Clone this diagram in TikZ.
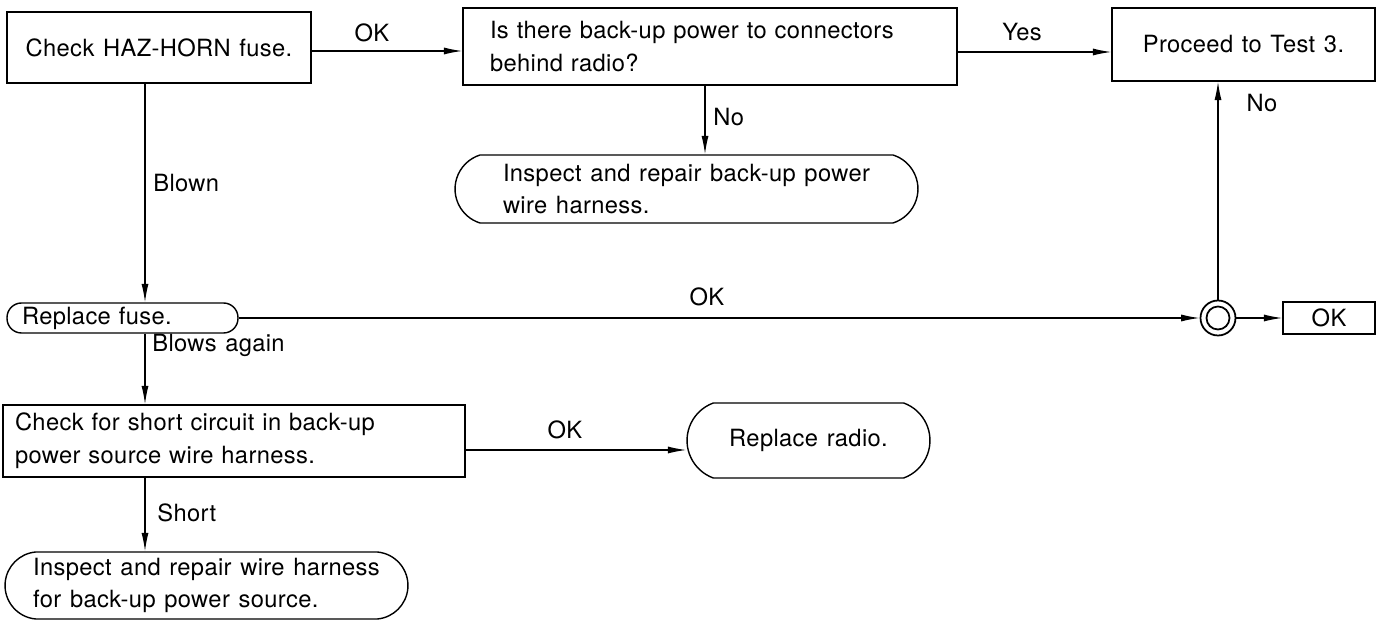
\documentclass[tikz,border=0pt]{standalone}
\usepackage{fontspec}
\setmainfont{TeX Gyre Heros}[WordSpace=1.25,LetterSpace=1.5]
\usetikzlibrary{arrows.meta,shapes.misc,calc}
\begin{document}
\begin{tikzpicture}[x=0.02cm,y=-0.02cm,
  every node/.style={font=\fontsize{13.5}{18.7}\selectfont},
  box/.style={draw, line width=0.8pt, rectangle, inner sep=0pt},
  rbox/.style={draw, line width=0.8pt, rounded rectangle, inner sep=0pt},
  arr/.style={line width=0.7pt, -{Latex[length=10.5pt,width=4pt]}},
  lbl/.style={inner sep=0pt}]
\useasboundingbox (0,0) rectangle (1377,624);
% nodes
\node[box, minimum width=6.08cm, minimum height=1.42cm] (b1) at (159,47.5) {Check HAZ-HORN fuse.};
\node[box, minimum width=9.88cm, minimum height=1.54cm, text width=8.8cm, align=left] (b2) at (710,46.5) {Is there back-up power to connectors\\behind radio?};
\node[box, minimum width=5.26cm, minimum height=1.46cm] (b3) at (1243.5,44.5) {Proceed to Test 3.};
\node[rbox, rounded rectangle arc length=145, minimum width=9.26cm, minimum height=1.36cm, align=left] (i1) at (686.5,189) {Inspect and repair back-up power\\wire harness.};
\node[box, rounded corners=0.29cm, minimum width=4.62cm, minimum height=0.6cm, text width=4.02cm, align=left] (fuse) at (122.5,318) {Replace fuse.};
\node[circle, draw, line width=1pt, minimum size=0.7cm, inner sep=0pt] (c) at (1218,318) {};
\draw[line width=1pt] (c.center) circle[radius=0.23cm];
\node[box, minimum width=1.84cm, minimum height=0.64cm] (ok) at (1329,318) {OK};
\node[box, minimum width=9.24cm, minimum height=1.44cm, text width=8.76cm, align=left] (b4) at (234,441) {Check for short circuit in back-up\\power source wire harness.};
\node[rbox, rounded rectangle arc length=140, minimum width=4.86cm, minimum height=1.5cm] (radio) at (808.5,440.5) {Replace radio.};
\node[rbox, rounded rectangle arc length=170, minimum width=8.06cm, minimum height=1.34cm, align=left] (i2) at (206.5,585.5) {Inspect and repair wire harness\\for back-up power source.};
% helper coordinates
\coordinate (v) at (145,0);
\coordinate (p1) at ($(b1.east)+(0,3.5)$);
\coordinate (p2) at ($(b2.east)+(0,5.5)$);
\coordinate (p3) at ($(b2.south)+(-5,0)$);
\coordinate (p4) at ($(b4.east)+(0,9)$);
% connectors
\draw[arr] (p1) -- (p1 -| b2.west);
\draw[arr] (p2) -- (p2 -| b3.west);
\draw[arr] (p3) -- (p3 |- i1.north);
\draw[arr] (b1.south -| v) -- (fuse.north -| v);
\draw[arr] (fuse.east) -- (c.west);
\draw[arr] (c.east) -- (ok.west);
\draw[arr] (c.north) -- (c.north |- b3.south);
\draw[arr] (fuse.south -| v) -- (b4.north -| v);
\draw[arr] (p4) -- (p4 -| radio.west);
\draw[arr] (b4.south -| v) -- (i2.north -| v);
% labels
\node[lbl] (lok1) at (372,33) {OK};
\node[lbl] (lyes) at (1022,32) {Yes};
\node[lbl, anchor=west] (lno1) at (713,117) {No};
\node[lbl] (lno2) at (1262,103) {No};
\node[lbl, anchor=west] (lblown) at (153,183) {Blown};
\node[lbl] (lok2) at (707,297) {OK};
\node[lbl, anchor=west] (lblows) at (152,345) {Blows again};
\node[lbl] (lok3) at (565,430) {OK};
\node[lbl, anchor=west] (lshort) at (157,513) {Short};
\end{tikzpicture}
\end{document}
